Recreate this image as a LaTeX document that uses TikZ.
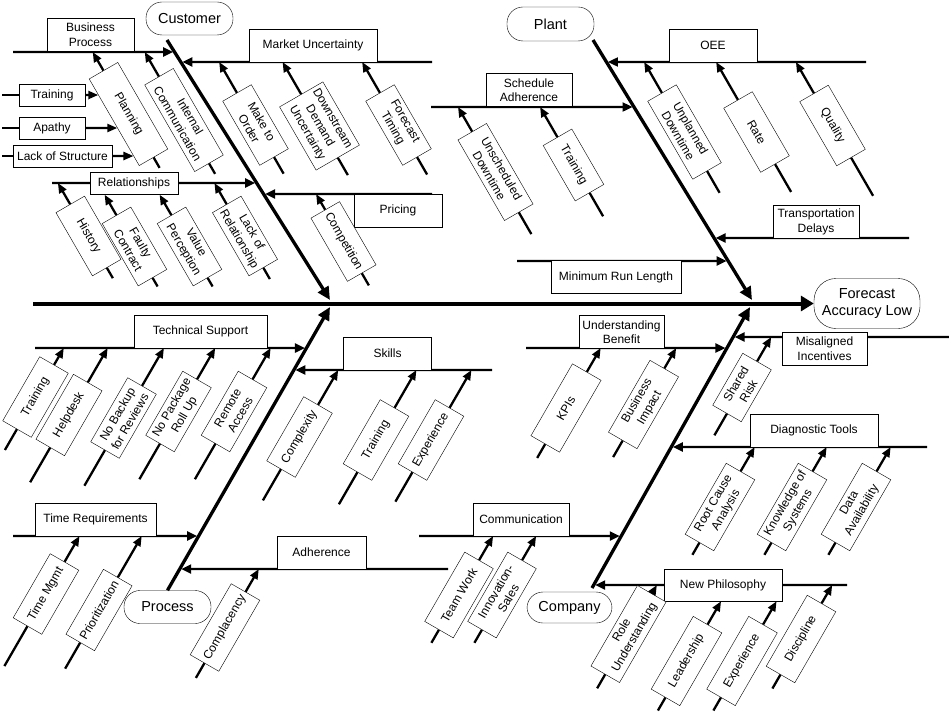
\documentclass[tikz,border=0pt]{standalone}
\usepackage{fontspec}
\setmainfont{Liberation Sans}
\usetikzlibrary{arrows.meta}
\usetikzlibrary{calc}

\begin{document}
\begin{tikzpicture}[x=1pt, y=1pt,
    every node/.style={font=\fontsize{12}{14.5}\selectfont},
    cause/.style={draw, fill=white, align=center, inner sep=1pt, minimum height=33pt},
    effect/.style={draw, fill=white, align=center, inner sep=2pt, rounded corners=16pt, minimum width=87pt, minimum height=33pt, font=\fontsize{14.5}{17}\selectfont},
    spine/.style={line width=4pt, -{Triangle[length=13pt, width=15pt]}},
    bone/.style={line width=3.3pt, -{Triangle[length=13pt, width=12pt]}},
    branch/.style={line width=2.3pt, shorten >=1.5pt, -{Triangle[length=10pt, width=9pt]}},
    twig/.style={line width=2.3pt, -{Triangle[length=10pt, width=8pt]}},
    stub/.style={line width=2.3pt}]

    \useasboundingbox (0,0) rectangle (949,-714);

    \coordinate (spineS) at (33,-303.5);
    \coordinate (custS) at (167,-40);
    \coordinate (custE) at (330,-300);
    \coordinate (plantS) at (593,-40);
    \coordinate (plantE) at (752,-300);
    \coordinate (procE) at (330,-307);
    \coordinate (compS) at (592,-588);
    \coordinate (compE) at (750,-307);

    \coordinate (bpA) at (13,-52);    \coordinate (bpB) at (120,-52);
    \coordinate (mkA) at (432,-62);   \coordinate (mkB) at (300,-62);
    \coordinate (relA) at (52,-183);  \coordinate (relB) at (150,-183);
    \coordinate (prA) at (432,-194);  \coordinate (prB) at (350,-194);
    \coordinate (oeeA) at (866,-62);  \coordinate (oeeB) at (700,-62);
    \coordinate (saA) at (431,-107);  \coordinate (saB) at (500,-107);
    \coordinate (tdA) at (909,-238);  \coordinate (tdB) at (800,-238);
    \coordinate (mrA) at (517,-261);  \coordinate (mrB) at (600,-261);
    \coordinate (tsA) at (35,-348);   \coordinate (tsB) at (200,-348);
    \coordinate (skA) at (492,-370);  \coordinate (skB) at (400,-370);
    \coordinate (trA) at (13,-536);   \coordinate (trB) at (100,-536);
    \coordinate (adA) at (448,-569);  \coordinate (adB) at (300,-569);
    \coordinate (ubA) at (526,-348);  \coordinate (ubB) at (600,-348);
    \coordinate (miA) at (949,-337);  \coordinate (miB) at (800,-337);
    \coordinate (dtA) at (927,-447);  \coordinate (dtB) at (800,-447);
    \coordinate (cmA) at (419,-536);  \coordinate (cmB) at (500,-536);
    \coordinate (npA) at (847,-585);  \coordinate (npB) at (700,-585);

    \node[effect] (process) at (167.5,-607) {Process};
    \node[effect, minimum width=85pt, minimum height=31pt] (company) at (569.5,-607.5) {Company};
    \node[effect, minimum width=106pt, minimum height=50pt, rounded corners=22pt] (forecast) at (867,-303.5) {Forecast\\Accuracy Low};

    \draw[spine] (spineS) -- (forecast.west);
    \draw[bone] (custS) -- (custE);
    \draw[bone] (plantS) -- (plantE);
    \draw[bone] (process.north) -- (procE);
    \draw[bone] (compS) -- (compE);

    \draw[branch] (bpA) -- (intersection of bpA--bpB and custS--custE);
    \draw[branch] (mkA) -- (intersection of mkA--mkB and custS--custE);
    \draw[branch] (relA) -- (intersection of relA--relB and custS--custE);
    \draw[branch] (prA) -- (intersection of prA--prB and custS--custE);
    \draw[branch] (oeeA) -- (intersection of oeeA--oeeB and plantS--plantE);
    \draw[branch] (saA) -- (intersection of saA--saB and plantS--plantE);
    \draw[branch] (tdA) -- (intersection of tdA--tdB and plantS--plantE);
    \draw[branch] (mrA) -- (intersection of mrA--mrB and plantS--plantE);
    \draw[branch] (tsA) -- (intersection of tsA--tsB and process.north--procE);
    \draw[branch] (skA) -- (intersection of skA--skB and process.north--procE);
    \draw[branch] (trA) -- (intersection of trA--trB and process.north--procE);
    \draw[branch] (adA) -- (intersection of adA--adB and process.north--procE);
    \draw[branch] (ubA) -- (intersection of ubA--ubB and compS--compE);
    \draw[branch] (miA) -- (intersection of miA--miB and compS--compE);
    \draw[branch] (dtA) -- (intersection of dtA--dtB and compS--compE);
    \draw[branch] (cmA) -- (intersection of cmA--cmB and compS--compE);
    \draw[branch] (npA) -- (intersection of npA--npB and compS--compE);

    \node[effect] (customer) at (189.5,-18.5) {Customer};
    \node[effect, minimum height=34pt] (plant) at (550.5,-24) {Plant};

    \node[cause, minimum width=87pt] (bproc) at (90.5,-34.5) {Business\\Process};
    \node[cause, minimum width=128pt] (market) at (313,-45.5) {Market Uncertainty};
    \node[cause, minimum width=88pt, minimum height=22pt] (relat) at (134,-183.5) {Relationships};
    \node[cause, minimum width=88pt] (pricing) at (398,-210.5) {Pricing};
    \node[cause, minimum width=66pt, minimum height=22pt] (trainA) at (52,-95) {Training};
    \node[cause, minimum width=66pt, minimum height=22pt] (apathy) at (52,-128) {Apathy};
    \node[cause, minimum width=99pt, minimum height=22pt] (lackst) at (62.5,-156) {Lack of Structure};
    \node[cause, minimum width=88pt] (oee) at (713,-45.5) {OEE};
    \node[cause, minimum width=86pt] (schad) at (529,-90) {Schedule\\Adherence};
    \node[cause, minimum width=86pt] (trdel) at (816,-222) {Transportation\\Delays};
    \node[cause, minimum width=130pt] (minrun) at (616,-277) {Minimum Run Length};
    \node[cause, minimum width=133pt] (techsup) at (200.5,-331.5) {Technical Support};
    \node[cause, minimum width=88pt] (skills) at (387.5,-353.5) {Skills};
    \node[cause, minimum width=121pt] (timereq) at (95.5,-519.5) {Time Requirements};
    \node[cause, minimum width=89pt] (adher) at (321.5,-552.5) {Adherence};
    \node[cause, minimum width=85pt] (undben) at (621.5,-332) {Understanding\\Benefit};
    \node[cause, minimum width=85pt] (misinc) at (824.5,-348.5) {Misaligned\\Incentives};
    \node[cause, minimum width=128pt] (diagt) at (814,-430.5) {Diagnostic Tools};
    \node[cause, minimum width=96pt] (commu) at (521,-519.5) {Communication};
    \node[cause, minimum width=118pt, minimum height=32pt] (newph) at (723,-585) {New Philosophy};

    \node[cause, rotate=-60, minimum width=100pt] (plan) at (128.5,-114) {Planning};
    \draw[twig] (plan.west) -- (intersection of plan.west--plan.east and bpA--bpB);
    \draw[stub] (plan.east) -- +(-60:12);
    \node[cause, rotate=-60, minimum width=100pt] (intcom) at (184,-120) {Internal\\Communication};
    \draw[twig] (intcom.west) -- (intersection of intcom.west--intcom.east and bpA--bpB);
    \draw[stub] (intcom.east) -- +(-60:12);

    \coordinate (trainS) at (2,-95);
    \coordinate (apathyS) at (2,-128);
    \coordinate (lackstS) at (2,-156);
    \draw[stub] (trainS) -- (trainA.west);
    \draw[twig] (trainA.east) -- (intersection of trainA.west--trainA.east and plan.south west--plan.south east);
    \draw[stub] (apathyS) -- (apathy.west);
    \draw[twig] (apathy.east) -- (intersection of apathy.west--apathy.east and plan.south west--plan.south east);
    \draw[stub] (lackstS) -- (lackst.west);
    \draw[twig] (lackst.east) -- (intersection of lackst.west--lackst.east and plan.south west--plan.south east);

    \node[cause, rotate=-60, minimum width=74pt] (mto) at (255.5,-125) {Make to\\Order};
    \draw[twig] (mto.west) -- (intersection of mto.west--mto.east and mkA--mkB);
    \draw[stub] (mto.east) -- +(-60:19);
    \node[cause, rotate=-60, minimum width=73pt, minimum height=50pt] (dsd) at (319.5,-126) {Downstream\\Demand\\Uncertainty};
    \draw[twig] (dsd.west) -- (intersection of dsd.west--dsd.east and mkA--mkB);
    \draw[stub] (dsd.east) -- +(-60:20);
    \node[cause, rotate=-60, minimum width=74pt] (fct) at (398.5,-125) {Forecast\\Timing};
    \draw[twig] (fct.west) -- (intersection of fct.west--fct.east and mkA--mkB);
    \draw[stub] (fct.east) -- +(-60:20);

    \node[cause, rotate=-60, minimum width=73pt] (hist) at (88.5,-236) {History};
    \draw[twig] (hist.west) -- (intersection of hist.west--hist.east and relA--relB);
    \draw[stub] (hist.east) -- +(-60:12);
    \node[cause, rotate=-60, minimum width=72pt] (faulty) at (134.5,-246.5) {Faulty\\Contract};
    \draw[twig] (faulty.west) -- (intersection of faulty.west--faulty.east and relat.south west--relat.south east);
    \draw[stub] (faulty.east) -- +(-60:10);
    \node[cause, rotate=-60, minimum width=72pt] (valp) at (189.5,-246.5) {Value\\Perception};
    \draw[twig] (valp.west) -- (intersection of valp.west--valp.east and relat.south west--relat.south east);
    \draw[stub] (valp.east) -- +(-60:10);
    \node[cause, rotate=-60, minimum width=73pt] (lackrel) at (245,-236) {Lack of\\Relationship};
    \draw[twig] (lackrel.west) -- (intersection of lackrel.west--lackrel.east and relA--relB);
    \draw[stub] (lackrel.east) -- +(-60:13);
    \node[cause, rotate=-60, minimum width=73pt] (compet) at (343.5,-241.5) {Competition};
    \draw[twig] (compet.west) -- (intersection of compet.west--compet.east and prA--prB);
    \draw[stub] (compet.east) -- +(-60:14);

    \node[cause, rotate=-60, minimum width=90pt] (unpl) at (684.5,-132) {Unplanned\\Downtime};
    \draw[twig] (unpl.west) -- (intersection of unpl.west--unpl.east and oeeA--oeeB);
    \draw[stub] (unpl.east) -- +(-60:25);
    \node[cause, rotate=-60, minimum width=74pt] (rate) at (756.5,-132) {Rate};
    \draw[twig] (rate.west) -- (intersection of rate.west--rate.east and oeeA--oeeB);
    \draw[stub] (rate.east) -- +(-60:32);
    \node[cause, rotate=-60, minimum width=74pt] (qual) at (832.5,-125.5) {Quality};
    \draw[twig] (qual.west) -- (intersection of qual.west--qual.east and oeeA--oeeB);
    \draw[stub] (qual.east) -- +(-60:44);
    \node[cause, rotate=-60, minimum width=93pt] (unsch) at (495.5,-172) {Unscheduled\\Downtime};
    \draw[twig] (unsch.west) -- (intersection of unsch.west--unsch.east and saA--saB);
    \draw[stub] (unsch.east) -- +(-60:25);
    \node[cause, rotate=-60, minimum width=64pt] (trainC) at (573.5,-165) {Training};
    \draw[twig] (trainC.west) -- (intersection of trainC.west--trainC.east and saA--saB);
    \draw[stub] (trainC.east) -- +(-60:27);

    \node[cause, rotate=60, minimum width=74pt] (trainB) at (35.5,-397) {Training};
    \draw[twig] (trainB.east) -- (intersection of trainB.west--trainB.east and tsA--tsB);
    \draw[stub] (trainB.west) -- +(240:24);
    \node[cause, rotate=60, minimum width=75pt] (helpd) at (69,-415) {Helpdesk};
    \draw[twig] (helpd.east) -- (intersection of helpd.west--helpd.east and tsA--tsB);
    \draw[stub] (helpd.west) -- +(240:40);
    \node[cause, rotate=60, minimum width=74pt] (nobk) at (123.5,-418) {No Backup\\for Reviews};
    \draw[twig] (nobk.east) -- (intersection of nobk.west--nobk.east and tsA--tsB);
    \draw[stub] (nobk.west) -- +(240:41);
    \node[cause, rotate=60, minimum width=74pt] (nopk) at (178.5,-411.5) {No Package\\Roll Up};
    \draw[twig] (nopk.east) -- (intersection of nopk.west--nopk.east and tsA--tsB);
    \draw[stub] (nopk.west) -- +(240:41);
    \node[cause, rotate=60, minimum width=74pt] (remac) at (234,-411.5) {Remote\\Access};
    \draw[twig] (remac.east) -- (intersection of remac.west--remac.east and tsA--tsB);
    \draw[stub] (remac.west) -- +(240:41);

    \node[cause, rotate=60, minimum width=74pt] (cplx) at (299.5,-437) {Complexity};
    \draw[twig] (cplx.east) -- (intersection of cplx.west--cplx.east and skA--skB);
    \draw[stub] (cplx.west) -- +(240:36);
    \node[cause, rotate=60, minimum width=74pt] (trainD) at (376,-440) {Training};
    \draw[twig] (trainD.east) -- (intersection of trainD.west--trainD.east and skA--skB);
    \draw[stub] (trainD.west) -- +(240:37);
    \node[cause, rotate=60, minimum width=74pt] (expA) at (431,-440) {Experience};
    \draw[twig] (expA.east) -- (intersection of expA.west--expA.east and skA--skB);
    \draw[stub] (expA.west) -- +(240:34);

    \node[cause, rotate=60, minimum width=74pt] (tmgmt) at (46,-594) {Time Mgmt};
    \draw[twig] (tmgmt.east) -- (intersection of tmgmt.west--tmgmt.east and trA--trB);
    \draw[stub] (tmgmt.west) -- +(240:46);
    \node[cause, rotate=60, minimum width=75pt] (prio) at (99,-610) {Prioritization};
    \draw[twig] (prio.east) -- (intersection of prio.west--prio.east and trA--trB);
    \draw[stub] (prio.west) -- +(240:30);
    \node[cause, rotate=60, minimum width=82pt] (cplc) at (225,-627.5) {Complacency};
    \draw[twig] (cplc.east) -- (intersection of cplc.west--cplc.east and adA--adB);
    \draw[stub] (cplc.west) -- +(240:17);

    \node[cause, rotate=60, minimum width=83pt] (kpi) at (566,-408) {KPIs};
    \draw[twig] (kpi.east) -- (intersection of kpi.west--kpi.east and ubA--ubB);
    \draw[stub] (kpi.west) -- +(240:16);
    \node[cause, rotate=60, minimum width=83pt] (busimp) at (643.5,-404.5) {Business\\Impact};
    \draw[twig] (busimp.east) -- (intersection of busimp.west--busimp.east and ubA--ubB);
    \draw[stub] (busimp.west) -- +(240:19);
    \node[cause, rotate=60, minimum width=60pt] (shrisk) at (742,-387.5) {Shared\\Risk};
    \draw[twig] (shrisk.east) -- (intersection of shrisk.west--shrisk.east and miA--miB);
    \draw[stub] (shrisk.west) -- +(240:25);

    \node[cause, rotate=60, minimum width=82pt] (rootc) at (720,-507) {Root Cause\\Analysis};
    \draw[twig] (rootc.east) -- (intersection of rootc.west--rootc.east and dtA--dtB);
    \draw[stub] (rootc.west) -- +(240:14);
    \node[cause, rotate=60, minimum width=82pt] (knows) at (792,-507) {Knowledge of\\Systems};
    \draw[twig] (knows.east) -- (intersection of knows.west--knows.east and dtA--dtB);
    \draw[stub] (knows.west) -- +(240:14);
    \node[cause, rotate=60, minimum width=82pt] (dataav) at (856,-507) {Data\\Availability};
    \draw[twig] (dataav.east) -- (intersection of dataav.west--dataav.east and dtA--dtB);
    \draw[stub] (dataav.west) -- +(240:14);

    \node[cause, rotate=60, minimum width=80pt] (teamw) at (459,-595) {Team Work};
    \draw[twig] (teamw.east) -- (intersection of teamw.west--teamw.east and cmA--cmB);
    \draw[stub] (teamw.west) -- +(240:15);
    \node[cause, rotate=60, minimum width=80pt] (innov) at (502,-595) {Innovation-\\Sales};
    \draw[twig] (innov.east) -- (intersection of innov.west--innov.east and cmA--cmB);
    \draw[stub] (innov.west) -- +(240:15);

    \node[cause, rotate=60, minimum width=93pt] (roleu) at (628.5,-634) {Role\\Understanding};
    \draw[twig] (roleu.east) -- (intersection of roleu.west--roleu.east and npA--npB);
    \draw[stub] (roleu.west) -- +(240:16);
    \node[cause, rotate=60, minimum width=84pt] (leader) at (686.5,-661) {Leadership};
    \draw[twig] (leader.east) -- (intersection of leader.west--leader.east and newph.south west--newph.south east);
    \draw[stub] (leader.west) -- +(240:15);
    \node[cause, rotate=60, minimum width=84pt] (expB) at (742,-661) {Experience};
    \draw[twig] (expB.east) -- (intersection of expB.west--expB.east and newph.south west--newph.south east);
    \draw[stub] (expB.west) -- +(240:15);
    \node[cause, rotate=60, minimum width=82pt] (discip) at (801,-639) {Discipline};
    \draw[twig] (discip.east) -- (intersection of discip.west--discip.east and npA--npB);
    \draw[stub] (discip.west) -- +(240:16);

\end{tikzpicture}
\end{document}
